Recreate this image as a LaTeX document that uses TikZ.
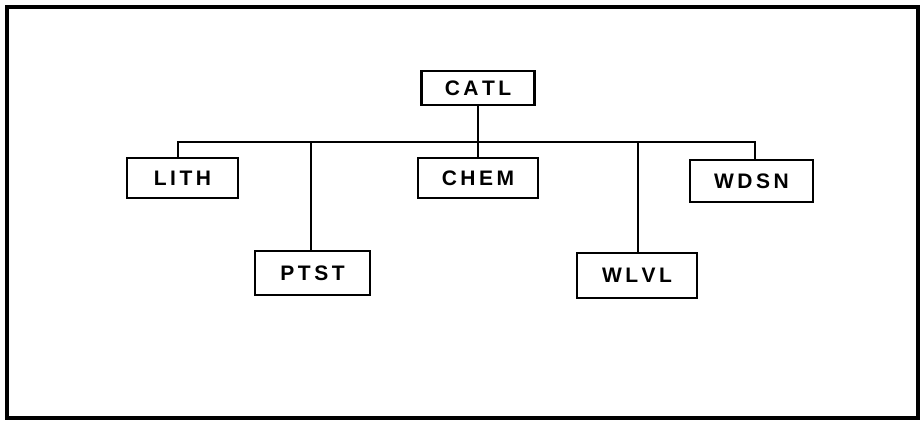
\documentclass[tikz,border=0pt]{standalone}
\usepackage{fontspec}
\setmainfont{Liberation Sans}
\begin{document}
\begin{tikzpicture}[x=1pt,y=-1pt,
  box/.style={draw,line width=2.6pt,minimum height=#1,inner sep=0pt,
    font=\fontsize{21}{23}\selectfont\bfseries, text=black},
  conn/.style={line width=2.6pt}]
\useasboundingbox (0,0) rectangle (923,423);
\draw[line width=3.2pt] (7,7) rectangle (918,418);
\node[box=34pt,minimum width=113pt] (catl) at (478,88) {C\,A\,T\,L};
\node[box=40pt,minimum width=111pt] (lith) at (182.5,178) {L\,I\,T\,H};
\node[box=44pt,minimum width=115pt] (ptst) at (312.5,273) {P\,T\,S\,T};
\node[box=40pt,minimum width=120pt] (chem) at (478,178) {C\,H\,E\,M};
\node[box=45pt,minimum width=120pt] (wlvl) at (637,275.5) {W\,L\,V\,L};
\node[box=42pt,minimum width=123pt] (wdsn) at (751.5,181) {W\,D\,S\,N};
\coordinate (hl) at (178,142);
\coordinate (hr) at (755,142);
\draw[conn] (catl.south) -- (chem.north);
\draw[conn] (lith.north -| hl) -- (hl) -- (hr) -- (wdsn.north -| hr);
\draw[conn] (ptst.north -| 311,0) -- (311,142);
\draw[conn] (wlvl.north -| 638,0) -- (638,142);
\end{tikzpicture}
\end{document}
